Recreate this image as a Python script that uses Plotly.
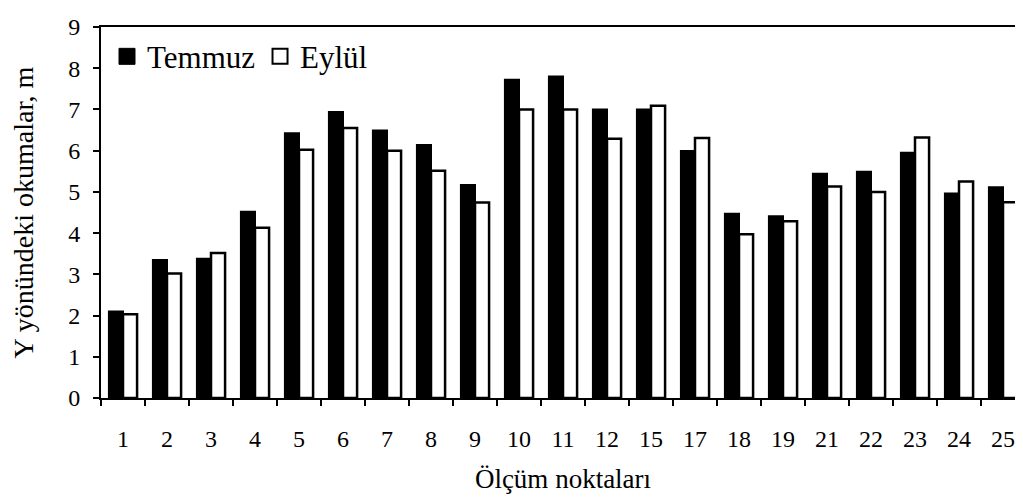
import plotly.graph_objects as go

# Measurement points (categories) and readings in Y direction (m)
points = ["1", "2", "3", "4", "5", "6", "7", "8", "9", "10", "11",
          "12", "15", "17", "18", "19", "21", "22", "23", "24", "25"]
temmuz = [2.1, 3.35, 3.38, 4.52, 6.42, 6.94, 6.49, 6.14, 5.17, 7.72, 7.8,
          7.0, 7.0, 5.99, 4.47, 4.41, 5.44, 5.49, 5.95, 4.96, 5.11]
eylul = [2.03, 3.02, 3.52, 4.13, 6.02, 6.55, 6.0, 5.51, 4.74, 7.0, 7.0,
         6.29, 7.09, 6.31, 3.97, 4.29, 5.13, 5.0, 6.32, 5.25, 4.75]

font_family = "Liberation Serif, Times New Roman, serif"

fig = go.Figure()

# July readings - solid black bars
fig.add_trace(go.Bar(x=points, y=temmuz, name="Temmuz", showlegend=False,
                     marker=dict(color="black", line=dict(color="black", width=2))))

# September readings - white bars with black outline
fig.add_trace(go.Bar(x=points, y=eylul, name="Eylül", showlegend=False,
                     marker=dict(color="white", line=dict(color="black", width=2.5))))

# legend-only entries so the legend squares can be bigger than plotly's bar swatches
fig.add_trace(go.Scatter(x=[None], y=[None], mode="markers", name="Temmuz",
                         marker=dict(symbol="square", size=16, color="black",
                                     line=dict(color="black", width=1))))
fig.add_trace(go.Scatter(x=[None], y=[None], mode="markers", name="Eylül",
                         marker=dict(symbol="square", size=15, color="white",
                                     line=dict(color="black", width=2))))

fig.update_layout(
    width=1023, height=502,
    barmode="group", bargap=0.36, bargroupgap=0,
    plot_bgcolor="white", paper_bgcolor="white",
    font=dict(family=font_family, color="black", size=24),
    margin=dict(l=93, r=6, t=10, b=112),
    showlegend=True,
    legend=dict(orientation="h", x=0.0065, y=0.92, xanchor="left", yanchor="middle",
                font=dict(size=31), bgcolor="rgba(0,0,0,0)",
                itemwidth=30, tracegroupgap=0),
)

fig.update_xaxes(
    type="category", range=[-0.5, 20.5],
    showline=True, linecolor="black", linewidth=2, mirror=True,
    ticks="outside", tickson="boundaries", ticklen=6, tickwidth=2, tickcolor="black",
    ticklabelstandoff=18,
    showgrid=False,
    title=dict(text="Ölçüm noktaları", font=dict(size=27), standoff=18),
)

fig.update_yaxes(
    range=[0, 9], dtick=1, tick0=0,
    showline=True, linecolor="black", linewidth=2,
    ticks="outside", ticklen=6, tickwidth=2, tickcolor="black",
    ticklabelstandoff=8, ticklabeloverflow="allow",
    showgrid=False, zeroline=False,
    title=dict(text="Y yönündeki okumalar, m", font=dict(size=28), standoff=31),
)

fig.write_html("out.html")
